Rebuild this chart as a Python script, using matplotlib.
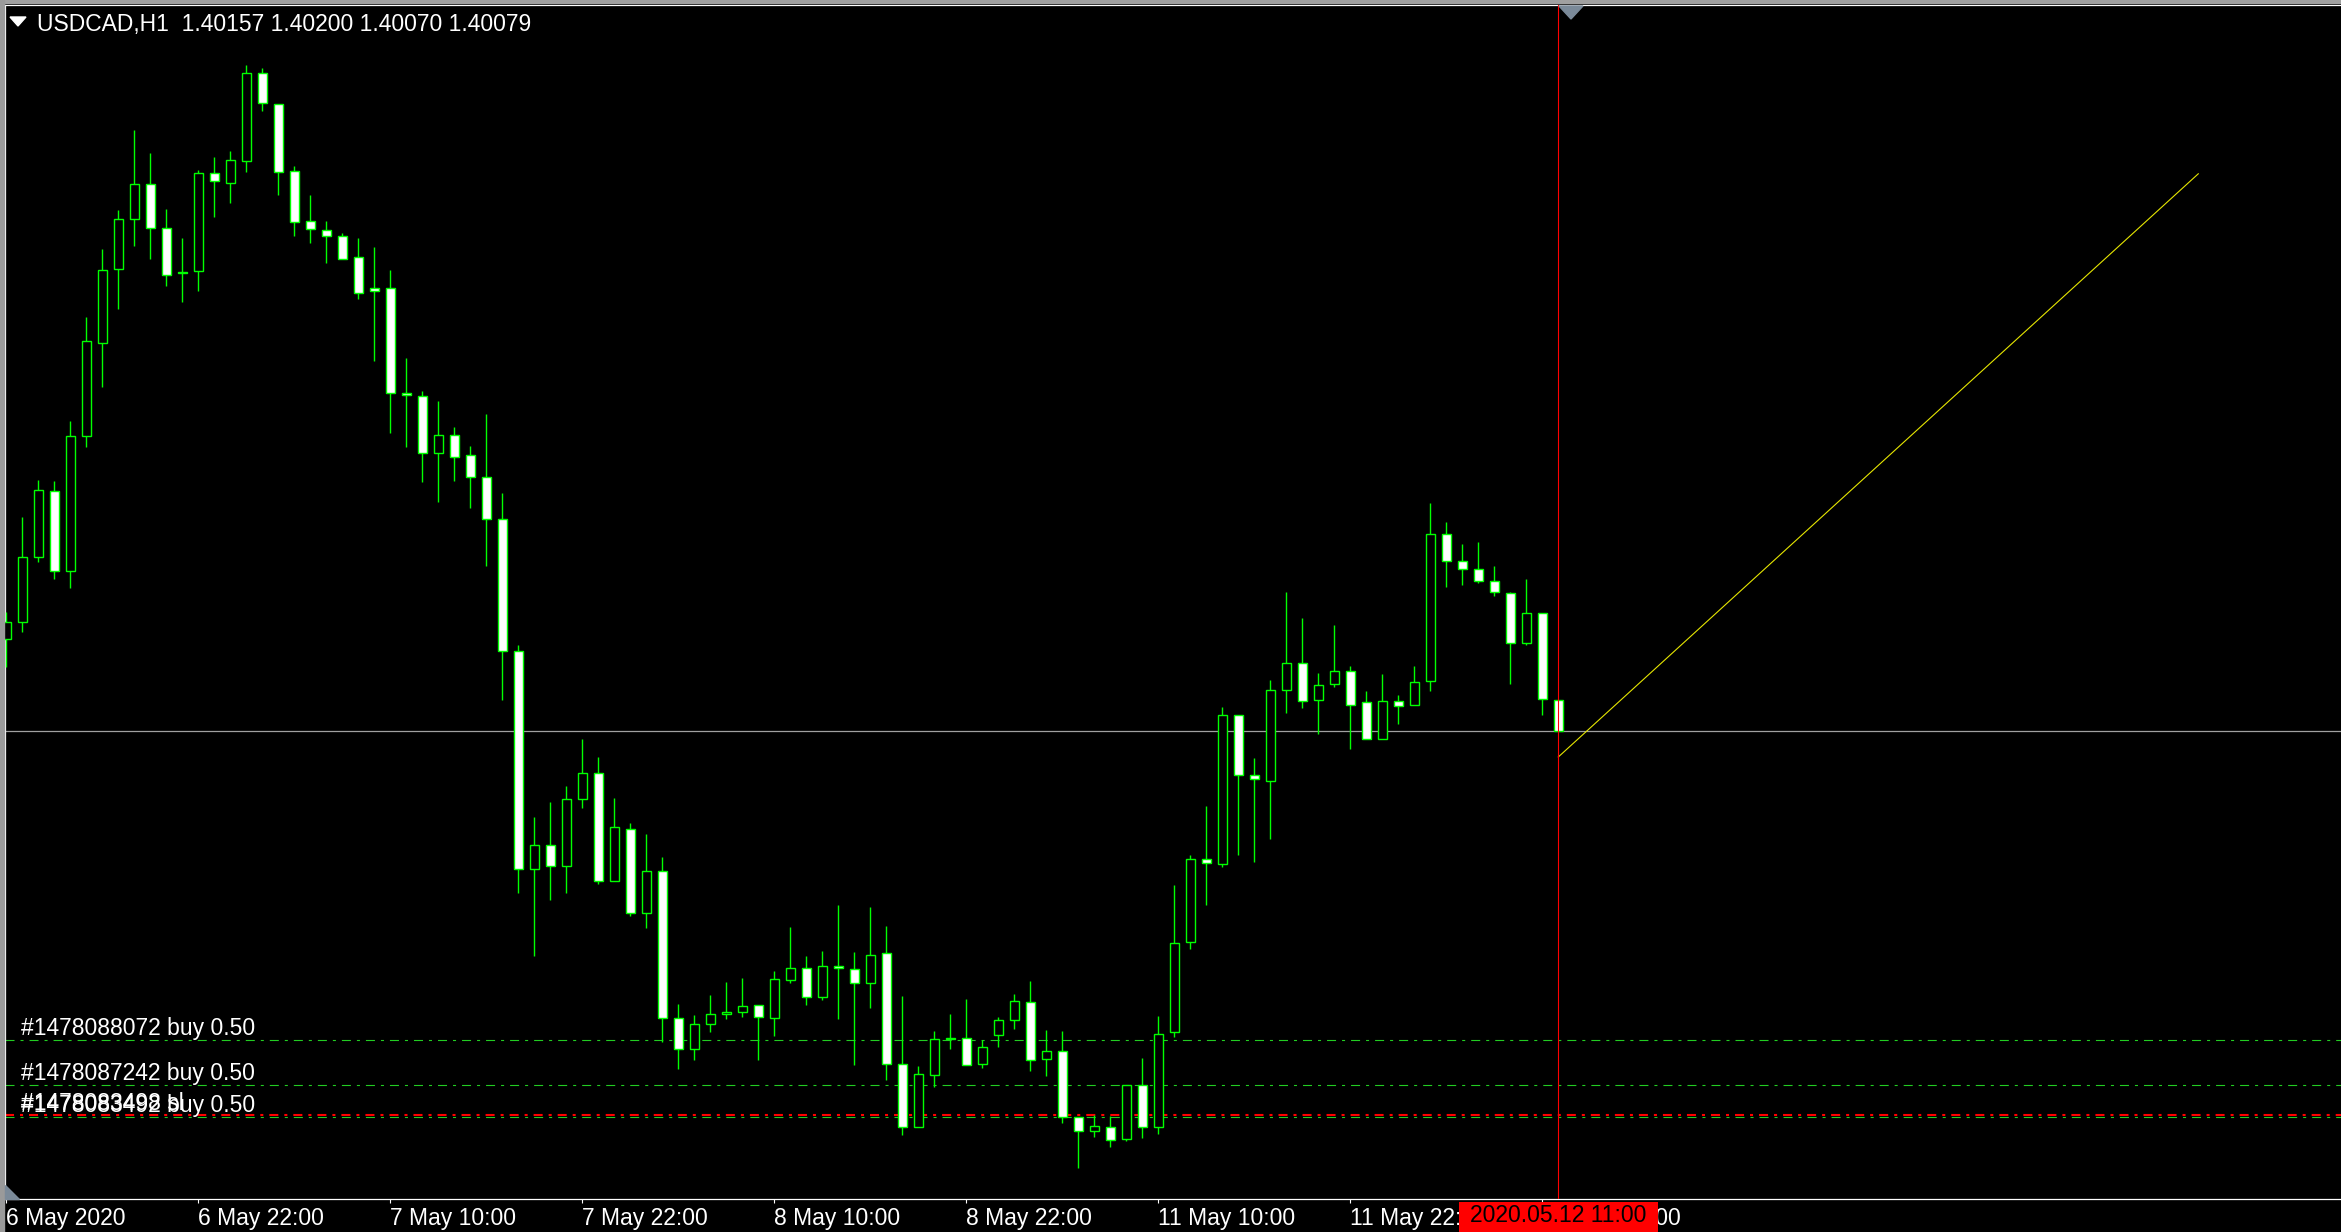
import numpy as np
import matplotlib
matplotlib.use('Agg')
import matplotlib.pyplot as plt
from matplotlib.patches import Polygon, Rectangle
from matplotlib.transforms import blended_transform_factory

# canvas in pixels
W, H = 2341, 1232
DPI = 100

plt.rcParams['font.family'] = ['Liberation Sans', 'DejaVu Sans']
plt.rcParams['lines.scale_dashes'] = False

# DATA  (USDCAD H1, one bar per hour, weekend gap skipped)
symbol = 'USDCAD,H1'
last_ohlc = [1.40157, 1.40200, 1.40070, 1.40079]

opens = [1.40309, 1.40351, 1.40513, 1.40678, 1.40478, 1.40817, 1.41050, 1.41235, 1.41358, 1.41446,
         1.41336, 1.41227, 1.41230, 1.41475, 1.41448, 1.41505, 1.41725, 1.41646, 1.41478, 1.41353,
         1.41331, 1.41316, 1.41263, 1.41186, 1.41186, 1.40924, 1.40916, 1.40773, 1.40820, 1.40770,
         1.40715, 1.40608, 1.40280, 1.39733, 1.39793, 1.39741, 1.39910, 1.39973, 1.39703, 1.39835,
         1.39625, 1.39728, 1.39361, 1.39283, 1.39346, 1.39371, 1.39376, 1.39393, 1.39362, 1.39456,
         1.39486, 1.39413, 1.39491, 1.39483, 1.39448, 1.39523, 1.39246, 1.39088, 1.39218, 1.39308,
         1.39312, 1.39246, 1.39320, 1.39356, 1.39401, 1.39258, 1.39280, 1.39113, 1.39078, 1.39088,
         1.39060, 1.39193, 1.39088, 1.39326, 1.39552, 1.39760, 1.39747, 1.40120, 1.39970, 1.39955,
         1.40181, 1.40250, 1.40157, 1.40197, 1.40228, 1.40151, 1.40059, 1.40155, 1.40143, 1.40203,
         1.40572, 1.40505, 1.40483, 1.40453, 1.40425, 1.40298, 1.40373, 1.40157]

highs = [1.40376, 1.40614, 1.40707, 1.40704, 1.40854, 1.41114, 1.41284, 1.41382, 1.41582, 1.41524,
         1.41384, 1.41312, 1.41481, 1.41514, 1.41529, 1.41744, 1.41737, 1.41646, 1.41491, 1.41419,
         1.41354, 1.41324, 1.41312, 1.41289, 1.41232, 1.41012, 1.40930, 1.40904, 1.40839, 1.40792,
         1.40872, 1.40674, 1.40294, 1.39865, 1.39902, 1.39941, 1.40060, 1.40014, 1.39912, 1.39849,
         1.39821, 1.39764, 1.39397, 1.39369, 1.39419, 1.39452, 1.39462, 1.39393, 1.39479, 1.39589,
         1.39517, 1.39529, 1.39644, 1.39526, 1.39639, 1.39591, 1.39416, 1.39242, 1.39329, 1.39371,
         1.39409, 1.39306, 1.39364, 1.39422, 1.39454, 1.39332, 1.39329, 1.39113, 1.39118, 1.39117,
         1.39193, 1.39261, 1.39366, 1.39694, 1.39769, 1.39892, 1.40139, 1.40120, 1.40011, 1.40206,
         1.40426, 1.40362, 1.40224, 1.40344, 1.40241, 1.40178, 1.40221, 1.40168, 1.40241, 1.40648,
         1.40601, 1.40547, 1.40551, 1.40491, 1.40427, 1.40459, 1.40374, 1.40157]

lows = [1.40239, 1.40327, 1.40502, 1.40460, 1.40437, 1.40788, 1.40940, 1.41135, 1.41291, 1.41260,
        1.41192, 1.41152, 1.41179, 1.41363, 1.41400, 1.41477, 1.41630, 1.41420, 1.41317, 1.41300,
        1.41250, 1.41258, 1.41158, 1.41005, 1.40825, 1.40788, 1.40701, 1.40652, 1.40704, 1.40636,
        1.40492, 1.40157, 1.39674, 1.39516, 1.39657, 1.39674, 1.39886, 1.39697, 1.39703, 1.39617,
        1.39587, 1.39302, 1.39235, 1.39257, 1.39327, 1.39360, 1.39365, 1.39257, 1.39317, 1.39450,
        1.39395, 1.39407, 1.39360, 1.39243, 1.39387, 1.39207, 1.39070, 1.39088, 1.39190, 1.39285,
        1.39244, 1.39237, 1.39290, 1.39333, 1.39230, 1.39217, 1.39100, 1.38987, 1.39065, 1.39040,
        1.39055, 1.39062, 1.39071, 1.39315, 1.39534, 1.39645, 1.39740, 1.39770, 1.39752, 1.39808,
        1.40125, 1.40136, 1.40071, 1.40190, 1.40033, 1.40059, 1.40059, 1.40097, 1.40143, 1.40180,
        1.40440, 1.40445, 1.40450, 1.40417, 1.40197, 1.40295, 1.40120, 1.40079]

closes = [1.40352, 1.40513, 1.40681, 1.40478, 1.40816, 1.41053, 1.41231, 1.41358, 1.41446, 1.41336,
          1.41220, 1.41224, 1.41475, 1.41453, 1.41506, 1.41725, 1.41648, 1.41477, 1.41352, 1.41333,
          1.41316, 1.41260, 1.41175, 1.41178, 1.40923, 1.40918, 1.40775, 1.40820, 1.40765, 1.40715,
          1.40608, 1.40278, 1.39733, 1.39793, 1.39741, 1.39910, 1.39973, 1.39703, 1.39838, 1.39625,
          1.39728, 1.39361, 1.39283, 1.39346, 1.39371, 1.39376, 1.39391, 1.39363, 1.39458, 1.39486,
          1.39413, 1.39491, 1.39486, 1.39450, 1.39520, 1.39246, 1.39088, 1.39221, 1.39308, 1.39312,
          1.39244, 1.39288, 1.39356, 1.39403, 1.39256, 1.39280, 1.39114, 1.39078, 1.39091, 1.39056,
          1.39193, 1.39088, 1.39322, 1.39550, 1.39758, 1.39749, 1.40120, 1.39970, 1.39959, 1.40181,
          1.40248, 1.40155, 1.40195, 1.40228, 1.40145, 1.40059, 1.40155, 1.40142, 1.40201, 1.40572,
          1.40503, 1.40483, 1.40453, 1.40426, 1.40298, 1.40373, 1.40159, 1.40079]

tick_bars = [0, 12, 24, 36, 48, 60, 72, 84, 96]
tick_labels = ['6 May 2020', '6 May 22:00', '7 May 10:00', '7 May 22:00', '8 May 10:00',
               '8 May 22:00', '11 May 10:00', '11 May 22:00', '12 May 10:00']

order_labels = ['#1478088072 buy 0.50', '#1478087242 buy 0.50', '#1478083492 buy 0.50']
order_prices = [1.39306, 1.39193, 1.39115]
sl_label = '#1478083498 sl'
sl_price = 1.39120
bid_price = 1.40079

trend_bars = [97, 137]
trend_prices = [1.40014, 1.41472]

cursor_bar = 97
cursor_label = '2020.05.12 11:00'

# view window (bar index / price)
XLIM = (-0.08, 145.92)
YLIM = (1.38909, 1.41894)

FS = 16.5
GREEN = '#00ff00'


def fpx(x, y):
    # pixel (from top-left) -> figure fraction
    return (x / W, 1 - y / H)


fig = plt.figure(figsize=(W / DPI, H / DPI), dpi=DPI, facecolor='black')
ax = fig.add_axes([5 / W, 1 - 1199 / H, (W - 5) / W, (1199 - 5) / H])
ax.set_facecolor('black')
ax.set_xlim(*XLIM)
ax.set_ylim(*YLIM)

for side in ['left', 'top', 'bottom']:
    ax.spines[side].set_color('white')
    ax.spines[side].set_linewidth(0.9)
ax.spines['right'].set_visible(False)
ax.set_yticks([])

ax.set_xticks(tick_bars)
ax.set_xticklabels(tick_labels)
ax.tick_params(axis='x', colors='white', length=3, width=0.8, direction='out',
               pad=3, labelsize=FS)
for lbl in ax.get_xticklabels():
    lbl.set_ha('left')

o = np.array(opens)
h = np.array(highs)
l = np.array(lows)
c = np.array(closes)
x = np.arange(len(o))
bull = c >= o

# horizontal levels (behind candles)
ax.axhline(bid_price, color='#a0a0a0', lw=0.9, zorder=2)
dash = (0, (6.5, 4.3, 2.2, 4.3))
for p in order_prices:
    ax.axhline(p, color='#22cc22', lw=0.8, linestyle=dash, zorder=2)
ax.axhline(sl_price, color='#ff0000', lw=1.5, linestyle=dash, zorder=2)

# candles
ax.vlines(x, l, h, color=GREEN, lw=1.0, zorder=3)
ax.bar(x, np.abs(c - o), bottom=np.minimum(o, c), width=0.58,
       color=np.where(bull, 'black', 'white'), edgecolor=GREEN, linewidth=1.0, zorder=4)

# trend line and time cursor
ax.plot(trend_bars, trend_prices, color='#e6e600', lw=0.8, zorder=5)
ax.axvline(cursor_bar, color='#ff0000', lw=0.8, zorder=6)

# order labels
for lab, p in zip(order_labels, order_prices):
    ax.annotate(lab, xy=(0, p), xycoords=('axes fraction', 'data'), xytext=(16, 5),
                textcoords='offset pixels', color='white', fontsize=FS, va='baseline', zorder=7)
ax.annotate(sl_label, xy=(0, sl_price), xycoords=('axes fraction', 'data'), xytext=(16, 5),
            textcoords='offset pixels', color='white', fontsize=FS, va='baseline', zorder=7)

# cursor time label on the time axis: red box from axis down to the window edge
box_tr = blended_transform_factory(ax.transData, fig.transFigure)
box_half = 6.22  # bars
ax.add_patch(Rectangle((cursor_bar - box_half, 0), 2 * box_half, 30 / H, transform=box_tr,
                       facecolor='#ff0000', edgecolor='none', clip_on=False, zorder=10))
ax.text(cursor_bar, 1 - 1216 / H, cursor_label, transform=box_tr, ha='center', va='center',
        color='black', fontsize=FS, zorder=11, clip_on=False)

# window chrome
fig.patches.append(Rectangle(fpx(0, 3), 1, 3 / H, transform=fig.transFigure,
                             color='#a0a0a0', zorder=0))
fig.patches.append(Rectangle((0, 0), 4 / W, 1, transform=fig.transFigure,
                             color='#9a9a9a', zorder=0))
fig.patches.append(Polygon([fpx(1559, 6), fpx(1583, 6), fpx(1571, 19)], closed=True,
                           transform=fig.transFigure, color='#7b8a99', zorder=20))
fig.patches.append(Polygon([fpx(5, 1185), fpx(5, 1199), fpx(19, 1199)], closed=True,
                           transform=fig.transFigure, color='#7b8a99', zorder=20))
fig.patches.append(Polygon([fpx(10, 17), fpx(26, 17), fpx(18, 26)], closed=True,
                           transform=fig.transFigure, color='white', zorder=20))

title = symbol + '  ' + ' '.join(f'{v:.5f}' for v in last_ohlc)
fig.text(37 / W, 1 - 24 / H, title, color='white', fontsize=FS, va='center', zorder=20)

fig.savefig('out.png', dpi=DPI, facecolor='black')
